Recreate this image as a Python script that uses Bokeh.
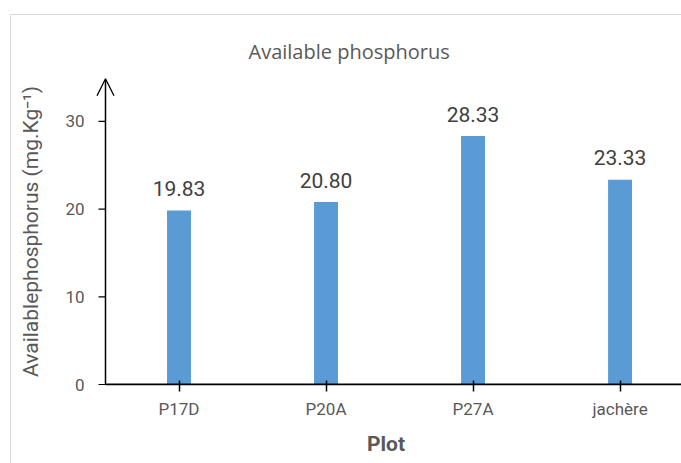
from bokeh.plotting import figure
from bokeh.models import (Range1d, FixedTicker, Title, Arrow, OpenHead, ColumnDataSource)
from bokeh.embed import file_html
from bokeh.resources import INLINE
from bokeh.core.properties import value

# ---- data ----
plots = ["P17D", "P20A", "P27A", "jachère"]
phosphorus = [19.83, 20.80, 28.33, 23.33]
labels = ["19.83", "20.80", "28.33", "23.33"]
y_ticks = [0, 10, 20, 30]

TEXT = "#595959"
BAR = "#5b9bd5"

X0, X1 = -0.602, 3.418      # x range (axis drawn at -0.5)
Y0, Y1 = -0.114, 35         # y range
AX = -0.5
TICK = 7 / 147.0             # 7 px in data units

xs = list(range(len(plots)))
src = ColumnDataSource(dict(x=xs, top=phosphorus, lab=labels))

p = figure(width=670, height=448, output_backend="svg", toolbar_location=None,
           x_range=Range1d(X0, X1), y_range=Range1d(Y0, Y1),
           min_border_left=79, min_border_right=0, min_border_top=62,
           min_border_bottom=78)
p.margin = (15, 0, 0, 11)
p.styles = {"outline": "1px solid #d9d9d9"}
p.outline_line_color = None
p.grid.visible = False
p.background_fill_color = "white"
p.border_fill_color = "white"

p.vbar(x="x", top="top", width=0.163, bottom=0, source=src,
       fill_color=BAR, line_color=None)
p.text(x="x", y="top", text="lab", source=src, text_align="center",
       text_baseline="alphabetic", y_offset=-22, text_color="#404040",
       text_font=value("Roboto"), text_font_size="21px")

# manual axis lines
p.segment(x0=[AX], y0=[0], x1=[X1], y1=[0], line_color="black", line_width=2)
p.segment(x0=[AX - TICK] * len(y_ticks), y0=y_ticks, x1=[AX] * len(y_ticks),
          y1=y_ticks, line_color="black", line_width=1.2)
p.add_layout(Arrow(end=OpenHead(size=17, line_width=1.3, line_color="black"),
                   x_start=AX, y_start=0, x_end=AX, y_end=34.85,
                   line_color="black", line_width=1.5))

# title
t = Title(text="Available phosphorus", align="left", offset=158,
          text_font="Open Sans", text_font_size="20px", text_font_style="normal",
          text_color=TEXT, standoff=25)
p.title = t

# x axis
xa = p.xaxis[0]
xa.ticker = FixedTicker(ticks=xs)
xa.major_label_overrides = {i: s for i, s in enumerate(plots)}
xa.axis_label = "Plot"
xa.axis_label_text_font = "Roboto"
xa.axis_label_text_font_size = "21px"
xa.axis_label_text_font_style = "bold"
xa.axis_label_text_color = TEXT
xa.axis_label_standoff = 10
xa.major_label_text_font = "Roboto"
xa.major_label_text_font_size = "17px"
xa.major_label_text_color = TEXT
xa.major_label_standoff = 7
xa.axis_line_color = None
xa.major_tick_line_color = "black"
xa.major_tick_line_width = 1.5
xa.major_tick_in = 5
xa.major_tick_out = 6
xa.minor_tick_line_color = None

# y axis (line and ticks drawn manually)
ya = p.yaxis[0]
ya.ticker = FixedTicker(ticks=y_ticks)
ya.axis_label = "Availablephosphorus (mg.Kg\u207b\u00b9)"
ya.axis_label_text_font = "Roboto"
ya.axis_label_text_font_size = "21px"
ya.axis_label_text_font_style = "normal"
ya.axis_label_text_color = TEXT
ya.axis_label_standoff = 19
ya.major_label_text_font = "Roboto"
ya.major_label_text_font_size = "17px"
ya.major_label_text_color = TEXT
ya.major_label_standoff = 6
ya.axis_line_color = None
ya.major_tick_line_color = None
ya.major_tick_in = 0
ya.major_tick_out = 0
ya.minor_tick_line_color = None

open("out.html", "w").write(file_html(p, INLINE))
